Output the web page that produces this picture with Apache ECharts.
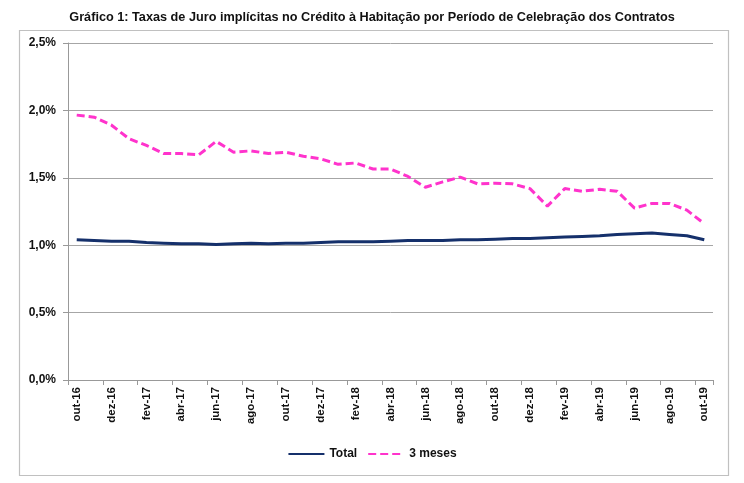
<!DOCTYPE html>
<html>
<head>
<meta charset="utf-8">
<script src="https://cdn.jsdelivr.net/npm/echarts@6/dist/echarts.min.js"></script>
<style>html,body{margin:0;padding:0;background:#fff}#c{width:744px;height:483px}</style>
</head>
<body>
<div id="c"></div>
<script>
const categories = ['out-16','nov-16','dez-16','jan-17','fev-17','mar-17','abr-17','mai-17','jun-17','jul-17','ago-17','set-17','out-17','nov-17','dez-17','jan-18','fev-18','mar-18','abr-18','mai-18','jun-18','jul-18','ago-18','set-18','out-18','nov-18','dez-18','jan-19','fev-19','mar-19','abr-19','mai-19','jun-19','jul-19','ago-19','set-19','out-19'];
const total = [1.04,1.035,1.03,1.03,1.02,1.015,1.01,1.01,1.005,1.01,1.015,1.01,1.015,1.015,1.02,1.025,1.025,1.025,1.03,1.035,1.035,1.035,1.04,1.04,1.045,1.05,1.05,1.055,1.06,1.065,1.07,1.08,1.085,1.09,1.08,1.07,1.04];
const tresMeses = [1.965,1.95,1.89,1.79,1.74,1.68,1.68,1.67,1.77,1.69,1.70,1.68,1.69,1.66,1.64,1.60,1.61,1.565,1.565,1.51,1.43,1.47,1.505,1.455,1.46,1.455,1.42,1.29,1.42,1.40,1.415,1.40,1.275,1.31,1.31,1.26,1.16];
const yTicks = [0, 0.5, 1.0, 1.5, 2.0, 2.5];

const font = 'Liberation Sans';
const chart = echarts.init(document.getElementById('c'));
chart.setOption({
  animation: false,
  backgroundColor: '#fff',
  title: {
    text: 'Gráfico 1: Taxas de Juro implícitas no Crédito à Habitação por Período de Celebração dos Contratos',
    left: 'center', top: 6,
    textStyle: {fontFamily: font, fontSize: 12.7, fontWeight: 'bold', color: '#111'}
  },
  graphic: [{
    type: 'rect', shape: {x: 19.5, y: 30.5, width: 709, height: 445},
    style: {fill: 'none', stroke: '#c0c0c0', lineWidth: 1.2}, silent: true, z: -1
  }],
  legend: {
    bottom: 18, left: 'center', itemGap: 10, itemWidth: 36, itemHeight: 10,
    itemStyle: {opacity: 0},
    textStyle: {fontFamily: font, fontSize: 12, fontWeight: 'bold', color: '#111'},
    data: ['Total', '3 meses']
  },
  grid: {left: 68, right: 31, top: 43, bottom: 103, containLabel: false},
  xAxis: {
    type: 'category', data: categories, boundaryGap: true,
    axisLine: {lineStyle: {color: '#999', width: 1}},
    axisTick: {show: true, interval: 1, length: 5, lineStyle: {color: '#999'}},
    axisLabel: {interval: 1, rotate: 90, fontFamily: font, fontSize: 11.5, fontWeight: 'bold', color: '#111', margin: 7},
    splitLine: {show: false}
  },
  yAxis: {
    type: 'value', min: yTicks[0], max: yTicks[yTicks.length - 1], interval: 0.5,
    axisLine: {show: true, lineStyle: {color: '#999'}},
    axisTick: {show: true, length: 5, lineStyle: {color: '#999'}},
    axisLabel: {fontFamily: font, fontSize: 12, fontWeight: 'bold', color: '#111', margin: 12,
      formatter: v => v.toFixed(1).replace('.', ',') + '%'},
    splitLine: {lineStyle: {color: '#a6a6a6', width: 1}}
  },
  series: [
    {name: 'Total', type: 'line', data: total, symbol: 'none', smooth: false,
      lineStyle: {color: '#15306b', width: 3}, itemStyle: {color: '#15306b'}},
    {name: '3 meses', type: 'line', data: tresMeses, symbol: 'none', smooth: false,
      lineStyle: {color: '#ff33cc', width: 3, type: [8, 4]}, itemStyle: {color: '#ff33cc'}}
  ]
});
</script>
</body>
</html>
